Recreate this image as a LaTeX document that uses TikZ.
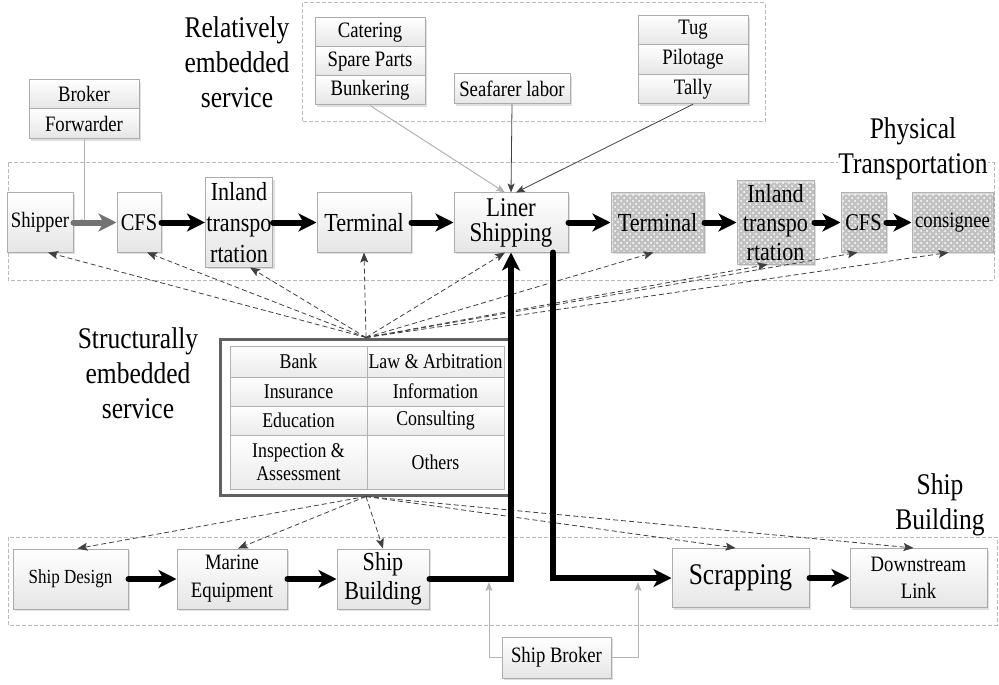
\documentclass[tikz,border=0pt]{standalone}
\usepackage{fontspec}
\setmainfont{Liberation Serif}[FakeStretch=0.85]
\usetikzlibrary{arrows.meta,shadows,patterns,calc}
\begin{document}
\begin{tikzpicture}[x=0.5pt,y=-0.5pt,
  fs/.style 2 args={font=\fontsize{#1}{#2}\selectfont},
  box/.style={draw=gray!65, line width=0.5pt, top color=white, bottom color=gray!20,
    drop shadow={shadow xshift=1.2pt,shadow yshift=-1.2pt,opacity=0.25},
    inner sep=0.5pt, align=center, text=black, fs={11}{13}},
  cellbox/.style={draw=gray!60, line width=0.5pt, top color=white, bottom color=gray!16,
    inner sep=0.5pt, align=center, text=black, fs={10.5}{11.5}},
  dotbox/.style={draw=gray!60, line width=0.5pt, preaction={fill=gray!30},
    pattern=crosshatch dots, pattern color=white,
    drop shadow={shadow xshift=1.2pt,shadow yshift=-1.2pt,opacity=0.25},
    inner sep=0.5pt, align=center, text=black, fs={11}{13}},
  container/.style={draw=gray!55, dash pattern=on 2pt off 1pt, line width=0.5pt},
  title/.style={align=center, fs={15}{17.5}, inner sep=0pt},
  flow/.style={line width=3pt, line cap=round, draw=black,
    -{Stealth[length=9pt,width=9pt,inset=2.5pt]}},
  flowgray/.style={flow, draw=black!55},
  path/.style={line width=3pt, line cap=round, line join=miter, draw=black,
    -{Stealth[length=9pt,width=9pt,inset=2.5pt]}},
  dep/.style={draw=black!75, line width=0.4pt, dash pattern=on 2.5pt off 1.5pt,
    -{Stealth[length=5pt,width=4pt,inset=1pt]}},
  feed/.style={draw=gray!50!black, line width=0.4pt,
    -{Stealth[length=4.5pt,width=3.5pt,inset=1pt]}},
  feedg/.style={draw=gray!60, line width=0.5pt,
    -{Stealth[length=4.5pt,width=3.5pt,inset=1pt]}}
]
\useasboundingbox (0,0) rectangle (999,684);

% containers
\draw[container] (302,3) rectangle (765,122);
\draw[container] (8,163) rectangle (994,280);
\draw[container] (8,537) rectangle (997,625);

% titles
\node[title] (trel) at (237,62) {Relatively\\embedded\\service};
\node[title] (tstruct) at (138,373) {Structurally\\embedded\\service};
\node[title, fill=white] (tphys) at (913,149) {Physical\\Transportation};
\node[title] (tship) at (940,505) {Ship\\Building};

% relatively embedded services
\node[box, minimum width=55pt, minimum height=14.5pt] (cater) at (370,32.5) {Catering};
\node[box, minimum width=55pt, minimum height=14.5pt] (spare) at (370,61.5) {Spare Parts};
\node[box, minimum width=55pt, minimum height=14.5pt] (bunk) at (370,90.5) {Bunkering};
\node[box, minimum width=58pt, minimum height=15pt] (sea) at (512,89) {Seafarer labor};
\node[box, minimum width=55pt, minimum height=14.75pt] (tug) at (693,30) {Tug};
\node[box, minimum width=55pt, minimum height=14.75pt] (pilot) at (693,59.5) {Pilotage};
\node[box, minimum width=55pt, minimum height=14.75pt] (tally) at (693,89) {Tally};
\node[box, minimum width=55pt, minimum height=14.75pt] (broker) at (84,94) {Broker};
\node[box, minimum width=55pt, minimum height=14.75pt] (fwd) at (84,123.5) {Forwarder};

% physical transportation
\node[box, minimum width=33pt, minimum height=29.5pt] (shipper) at (40,222.5) {Shipper};
\node[box, minimum width=22pt, minimum height=29.5pt, fs={12}{14}] (cfsA) at (139,222.5) {CFS};
\node[box, minimum width=33pt, minimum height=44.5pt, fs={13}{15.5}] (inlA) at (239,222.5) {Inland\\transpo\\rtation};
\node[box, minimum width=47pt, minimum height=29.5pt, fs={13}{15}] (termA) at (364,222.5) {Terminal};
\node[box, minimum width=57pt, minimum height=29.5pt, fs={13.5}{12.5}] (liner) at (511,222.5) {Liner\\Shipping};
\node[dotbox, minimum width=46.5pt, minimum height=29.5pt, fs={13}{15}] (termB) at (657.5,222.5) {Terminal};
\node[dotbox, minimum width=38.5pt, minimum height=41.5pt, fs={13}{14.5}] (inlB) at (775.5,222.5) {Inland\\transpo\\rtation};
\node[dotbox, minimum width=22.5pt, minimum height=29.5pt, fs={12}{14}] (cfsB) at (863.5,222.5) {CFS};
\node[dotbox, minimum width=40.5pt, minimum height=29.5pt] (cons) at (952.5,222.5) {consignee};

% structurally embedded services
\node[draw=black!62, line width=1.5pt, fill=white, minimum width=146pt, minimum height=78pt,
  drop shadow={shadow xshift=1.2pt,shadow yshift=-1.2pt,opacity=0.25}] (sbox) at (366,417) {};
\node[cellbox, minimum width=68.5pt, minimum height=15.5pt] (bank) at (298.5,361.5) {Bank};
\node[cellbox, minimum width=68.5pt, minimum height=15.5pt] (law) at (435.5,361.5) {Law \& Arbitration};
\node[cellbox, minimum width=68.5pt, minimum height=14.5pt] (ins) at (298.5,391.5) {Insurance};
\node[cellbox, minimum width=68.5pt, minimum height=14.5pt] (info) at (435.5,391.5) {Information};
\node[cellbox, minimum width=68.5pt, minimum height=14.5pt] (edu) at (298.5,420.5) {Education};
\node[cellbox, minimum width=68.5pt, minimum height=14.5pt] (cons2) at (435.5,420.5) {Consulting};
\node[cellbox, minimum width=68.5pt, minimum height=27pt] (insp) at (298.5,462) {Inspection \&\\Assessment};
\node[cellbox, minimum width=68.5pt, minimum height=27pt] (oth) at (435.5,462) {Others};

% ship building
\node[box, minimum width=57.5pt, minimum height=30pt, fs={10}{12}] (design) at (70.5,579) {Ship Design};
\node[box, minimum width=55pt, minimum height=30pt, fs={11}{14}] (marine) at (232,579) {Marine\\Equipment};
\node[box, minimum width=46pt, minimum height=30pt, fs={13}{14.5}] (sbuild) at (383,579) {Ship\\Building};
\node[box, minimum width=68.5pt, minimum height=29.5pt, fs={15}{17}] (scrap) at (740.5,578) {Scrapping};
\node[box, minimum width=68.5pt, minimum height=29.5pt, fs={11}{13.5}] (down) at (918.5,578) {Downstream\\Link};
\node[box, minimum width=54.5pt, minimum height=20.5pt] (sbroker) at (556.5,657.5) {Ship Broker};

% structural dependencies (dashed)
\draw[dep] (sbox.north) -- ([xshift=4pt]shipper.south);
\draw[dep] (sbox.north) -- ([xshift=4pt]cfsA.south);
\draw[dep] (sbox.north) -- ([xshift=5.5pt]inlA.south);
\draw[dep] (sbox.north) -- (termA.south);
\draw[dep] (sbox.north) -- ([xshift=-3pt]liner.south);
\draw[dep] (sbox.north) -- ([xshift=-2pt]termB.south);
\draw[dep] (sbox.north) -- ([xshift=-4pt]inlB.south);
\draw[dep] (sbox.north) -- ([xshift=-3pt]cfsB.south);
\draw[dep] (sbox.north) -- ([xshift=-2pt]cons.south);
\draw[dep] (sbox.south) -- ([xshift=3.5pt]design.north);
\draw[dep] (sbox.south) -- ([xshift=3pt]marine.north);
\draw[dep] (sbox.south) -- (sbuild.north);
\draw[dep] (sbox.south) -- ([xshift=-2.5pt]scrap.north);
\draw[dep] (sbox.south) -- ([xshift=-2.5pt]down.north);

% relatively embedded feeds
\draw[feedg] (bunk.south) -- ([xshift=-3pt]liner.north);
\draw[feed] (sea.south) -- (liner.north);
\draw[feed] (tally.south) -- ([xshift=2.5pt]liner.north);
\draw[feedg] (fwd.south) |- (shipper.east);

% ship broker
\coordinate (jl) at (489,582);
\coordinate (jr) at (638,582);
\draw[feedg] (sbroker.west) -| (jl);
\draw[feedg] (sbroker.east) -| (jr);

% main flows
\draw[flowgray] (shipper.east) -- (cfsA.west);
\draw[flow] (cfsA.east) -- (inlA.west);
\draw[flow] (inlA.east) -- (termA.west);
\draw[flow] (termA.east) -- (liner.west);
\draw[flow] (liner.east) -- (termB.west);
\draw[flow] (termB.east) -- (inlB.west);
\draw[flow] (inlB.east) -- (cfsB.west);
\draw[flow] (cfsB.east) -- (cons.west);
\draw[flow] (design.east) -- (marine.west);
\draw[flow] (marine.east) -- (sbuild.west);
\draw[flow] (scrap.east) -- (down.west);
\draw[path] (sbuild.east) -| (liner.south);
\draw[path] ([xshift=21pt]liner.south) |- (scrap.west);
\end{tikzpicture}
\end{document}
